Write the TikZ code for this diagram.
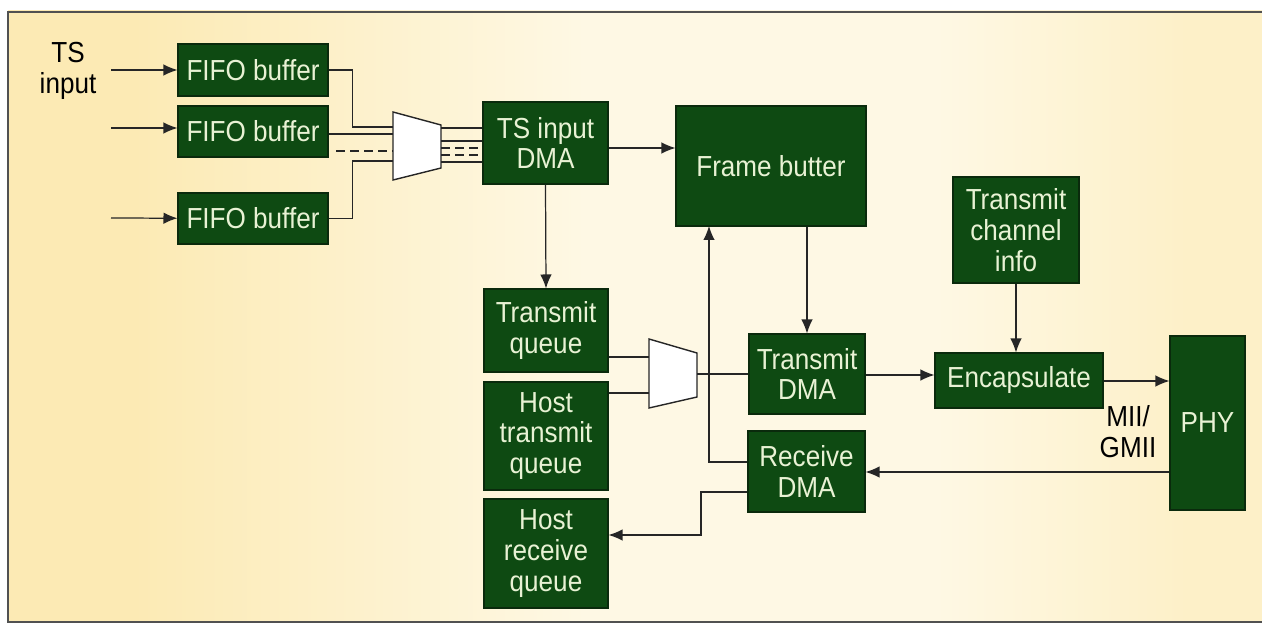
\documentclass[tikz,border=0pt]{standalone}
\usepackage{fontspec}
\setmainfont{Liberation Sans}[FakeStretch=0.9]
\usepackage{xcolor}
\usepackage{tikz}
\usetikzlibrary{arrows.meta,positioning,calc}
\definecolor{boxgreen}{HTML}{0E4A12}
\definecolor{boxedge}{HTML}{0A2A0C}
\definecolor{boxtext}{HTML}{E8F2D4}
\definecolor{wire}{HTML}{262626}
\definecolor{bgleft}{HTML}{FCEAB4}
\definecolor{bgmid}{HTML}{FEF8E4}
\definecolor{bgright}{HTML}{FDF0C8}
\pgfdeclarehorizontalshading{panel}{100bp}{color(0bp)=(bgleft); color(30bp)=(bgleft); color(48bp)=(bgmid); color(62bp)=(bgmid); color(72bp)=(bgright); color(100bp)=(bgright)}

\begin{document}
\begin{tikzpicture}[x=0.02cm, y=-0.02cm,
    every node/.style={font=\fontsize{16.5}{17.6}\selectfont},
    blk/.style={draw=boxedge, line width=0.6pt, fill=boxgreen, text=boxtext, align=center, inner sep=0pt},
    wireline/.style={draw=wire, line width=0.7pt},
    flow/.style={wireline, -{Latex[length=2.8mm,width=2.3mm]}},
    muxbody/.style={draw=wire, line width=0.8pt, fill=white}]
  % page and panel
  \useasboundingbox (0,0) rectangle (1262,625);
  \fill[white] (0,0) rectangle (1262,625);
  \shade[shading=panel, shading angle=0] (8,11) rectangle (1262,622);
  \draw[wire!80, line width=0.8pt] (1262,12) -- (8,12) -- (8,622) -- (1262,622);

  % input side
  \node[align=center] (tsin) at (68,71) {TS\\input};
  \node[blk, minimum width=3cm, minimum height=1.04cm] (fifoA) at (253,70) {FIFO buffer};
  \node[blk, minimum width=3cm, minimum height=1.02cm] (fifoB) at (253,131.5) {FIFO buffer};
  \node[blk, minimum width=3cm, minimum height=1.02cm] (fifoC) at (253,218.5) {FIFO buffer};
  \node[blk, minimum width=2.5cm, minimum height=1.64cm] (dmaIn) at (545.5,143) {TS input\\DMA};
  \node[blk, minimum width=3.8cm, minimum height=2.4cm] (frame) at (771,166) {Frame butter};

  % queues and DMAs
  \node[blk, minimum width=2.48cm, minimum height=1.66cm] (txq) at (546,330.5) {Transmit\\queue};
  \node[blk, minimum width=2.48cm, minimum height=2.16cm] (hostTx) at (546,436) {Host\\transmit\\queue};
  \node[blk, minimum width=2.48cm, minimum height=2.18cm] (hostRx) at (546,553.5) {Host\\receive\\queue};
  \node[blk, minimum width=2.32cm, minimum height=1.6cm] (txDma) at (807,374) {Transmit\\DMA};
  \node[blk, minimum width=2.34cm, minimum height=1.62cm] (rxDma) at (806.5,471.5) {Receive\\DMA};

  % network side
  \node[blk, minimum width=2.52cm, minimum height=2.12cm] (chInfo) at (1016,230) {Transmit\\channel\\info};
  \node[blk, minimum width=3.36cm, minimum height=1.1cm] (encap) at (1019,380.5) {Encapsulate};
  \node[blk, minimum width=1.5cm, minimum height=3.48cm] (phy) at (1207.5,423) {PHY};
  \node[align=center] (mii) at (1128,432) {MII/\\GMII};

  % multiplexers
  \draw[muxbody] (393,112) -- (441,125) -- (441,168) -- (393,180) -- cycle;
  \draw[muxbody] (649,339) -- (697,353) -- (697,397) -- (649,408) -- cycle;
  \coordinate (srcA) at (111,70);
  \coordinate (srcB) at (111,128);
  \coordinate (srcC) at (111,218);
  \coordinate (muxA) at (393,127);
  \coordinate (muxB) at (393,134);
  \coordinate (muxC) at (393,161);
  \coordinate (muxOut) at (697,374);
  \coordinate (fbIn) at (709,226);
  \coordinate (rxTurn) at (701,535);

  % connectors
  \draw[flow] (srcA) -- (fifoA);
  \draw[flow] (srcB) -- (srcB -| fifoB.west);
  \draw[flow] (srcC) -- (fifoC);
  \draw[wireline] (fifoA.east) -- ++(24,0) |- (muxA);
  \draw[wireline] (fifoB.east |- muxB) -- (muxB);
  \draw[wireline, dashed, dash pattern=on 5pt off 3pt] (336,151) -- (393,151);
  \draw[wireline] (fifoC.east) -- ++(24,0) |- (muxC);
  \foreach \yy in {128,141,162}
    \draw[wireline] (441,\yy) -- (dmaIn.west |- 0,\yy);
  \foreach \yy in {148,155}
    \draw[wireline, dashed, dash pattern=on 5pt off 3pt] (441,\yy) -- (dmaIn.west |- 0,\yy);
  \draw[flow] (dmaIn.east |- 0,148) -- (frame.west |- 0,148);
  \draw[flow] (dmaIn.south) -- (txq.north);
  \draw[wireline] (txq.east |- 0,357) -- (649,357);
  \draw[wireline] (hostTx.east |- 0,393) -- (649,393);
  \draw[wireline] (muxOut) -- (txDma.west);
  \draw[flow] (rxDma.west |- 0,462) -| (fbIn);
  \draw[flow] (txDma.north |- frame.south) -- (txDma.north);
  \draw[flow] (rxDma.west |- 0,492) -| (rxTurn) -- (rxTurn -| hostRx.east);
  \draw[flow] (txDma.east |- 0,375) -- (encap.west |- 0,375);
  \draw[flow] (chInfo.south) -- (chInfo.south |- encap.north);
  \draw[flow] (encap.east |- 0,381) -- (phy.west |- 0,381);
  \draw[flow] (phy.west |- 0,472) -- (rxDma.east |- 0,472);
\end{tikzpicture}
\end{document}
